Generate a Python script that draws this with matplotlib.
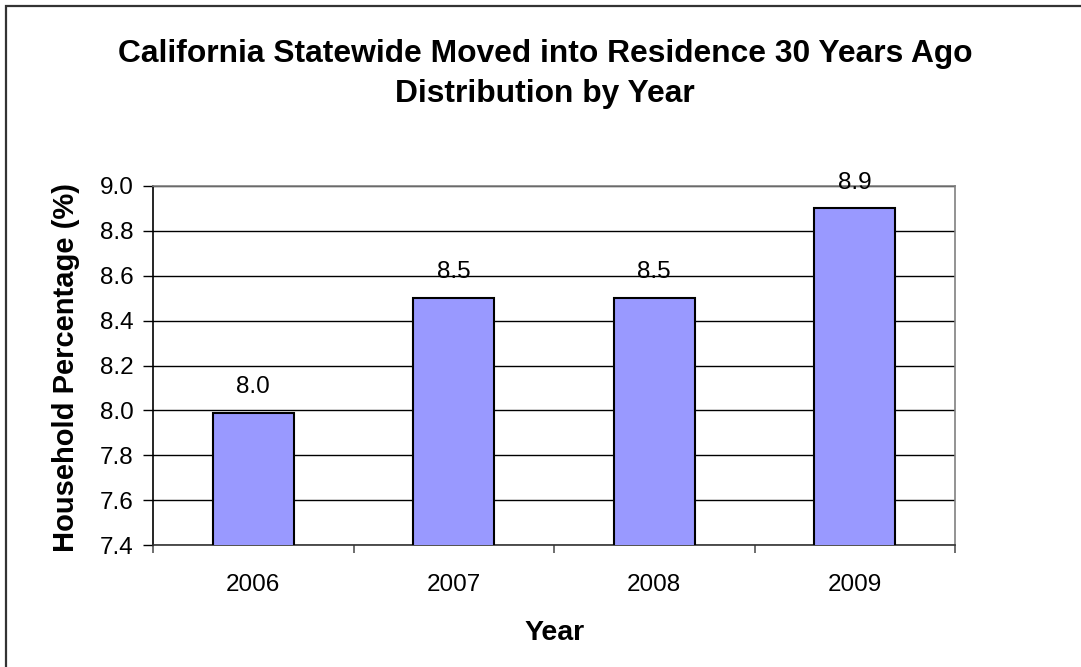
import numpy as np
import matplotlib.pyplot as plt
from matplotlib.ticker import FixedLocator, NullFormatter

plt.rcParams['font.family'] = ['Liberation Sans', 'DejaVu Sans']

years = ['2006', '2007', '2008', '2009']
pct = [7.99, 8.5, 8.5, 8.9]
yticks = [7.4, 7.6, 7.8, 8.0, 8.2, 8.4, 8.6, 8.8, 9.0]

W, H = 1081, 667
fig = plt.figure(figsize=(W / 100, H / 100), dpi=100)
# chart frame: left/top edges visible, right/bottom run past the image
fig.patches.append(plt.Rectangle((6 / W, -0.05), 1.1, 1 - 6 / H + 0.05, transform=fig.transFigure,
                                 fill=False, edgecolor='#333333', linewidth=1.6))

ax = fig.add_axes([153 / W, 122 / H, 802 / W, 359 / H])
x = np.arange(len(years))
bars = ax.bar(x, pct, width=0.405, color='#9999FF', edgecolor='black', linewidth=1.5, zorder=3)

ax.set_ylim(7.4, 9.0)
ax.set_xlim(-0.5, len(years) - 0.5)
ax.set_yticks(yticks)
ax.set_yticklabels([f'{v:.1f}' for v in yticks], fontsize=17.5)
ax.yaxis.grid(True, color='black', linewidth=1, zorder=0)

# category boundary ticks, labels at the centres
ax.xaxis.set_major_locator(FixedLocator(np.arange(-0.5, len(years), 1.0)))
ax.xaxis.set_major_formatter(NullFormatter())
ax.xaxis.set_minor_locator(FixedLocator(x))
ax.set_xticklabels(years, minor=True, fontsize=17.5)
ax.tick_params(axis='x', which='minor', length=0, pad=21)
ax.tick_params(axis='x', which='major', length=6, width=1.2, color='#555555')
ax.tick_params(axis='y', length=7, width=1, color='black', pad=7)

for s in ['top', 'right']:
    ax.spines[s].set_color('#808080')
ax.spines['left'].set_color('black')
ax.spines['bottom'].set_color('#333333')
for sp in ax.spines.values():
    sp.set_linewidth(1.2)

for b, v in zip(bars, pct):
    ax.annotate(f'{v:.1f}', (b.get_x() + b.get_width() / 2, v), xytext=(0, 18.5),
                textcoords='offset points', ha='center', va='center', fontsize=17.5)

fig.text(545 / W, 1 - 74 / H, 'California Statewide Moved into Residence 30 Years Ago\nDistribution by Year',
         ha='center', va='center', fontsize=22.9, fontweight='bold', linespacing=1.45)
fig.text(66 / W, 1 - 367 / H, 'Household Percentage (%)', rotation=90, ha='center', va='center',
         fontsize=21, fontweight='bold')
fig.text(555 / W, 1 - 633 / H, 'Year', ha='center', va='center', fontsize=20.5, fontweight='bold')

fig.savefig('out.png', dpi=100)
